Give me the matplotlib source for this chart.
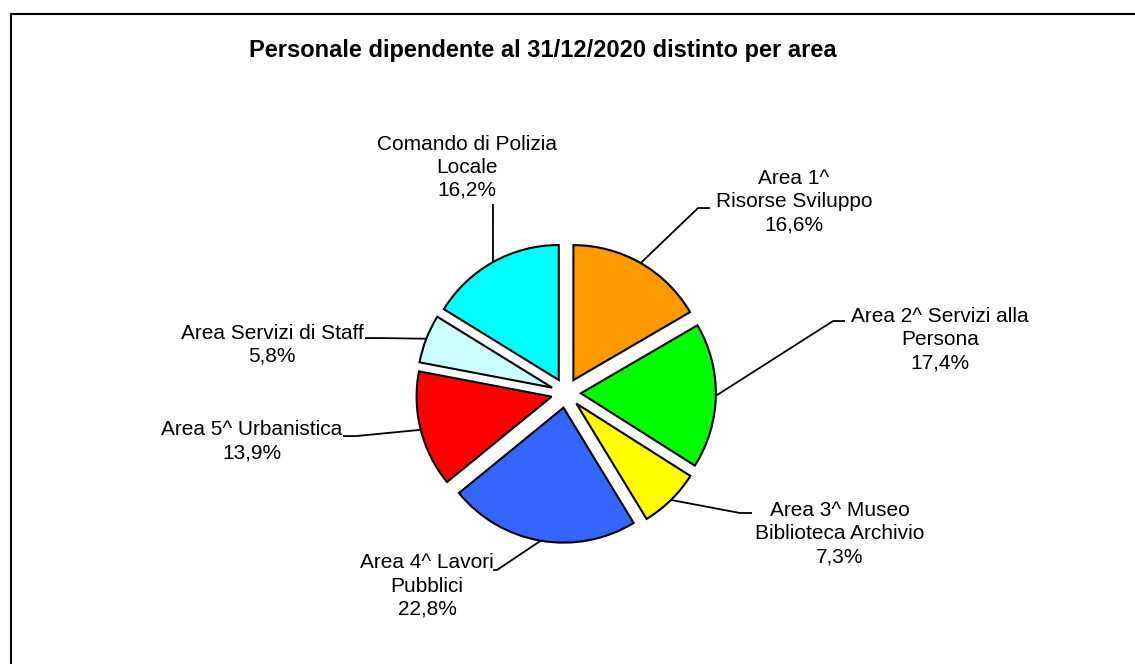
import matplotlib.pyplot as plt
import numpy as np
from matplotlib.lines import Line2D

plt.rcParams['font.family'] = ['Liberation Sans', 'DejaVu Sans']

# Staff per area at 31/12/2020 (percent of total), clockwise from 12 o'clock
areas = ["Area 1^\nRisorse Sviluppo",
         "Area 2^ Servizi alla\nPersona",
         "Area 3^ Museo\nBiblioteca Archivio",
         "Area 4^ Lavori\nPubblici",
         "Area 5^ Urbanistica",
         "Area Servizi di Staff",
         "Comando di Polizia\nLocale"]
shares = [16.6, 17.4, 7.3, 22.8, 13.9, 5.8, 16.2]
colors = ["#FF9900", "#00FF00", "#FFFF00", "#3366FF",
          "#FF0000", "#CCFFFF", "#00FFFF"]

title = "Personale dipendente al 31/12/2020 distinto per area"

EXPLODE = 0.11
W, H = 1135, 664
UNIT = 135.0           # pixels per pie radius
CX, CY = 566, 393      # pie centre, pixels from top-left

# label block centres and leader-line stubs (elbow, end), in pie-radius units
label_pos = [(1.689, 1.415), (2.770, 0.393), (2.030, -1.041), (-1.030, -1.430),
             (-2.326, -0.359), (-2.178, 0.359), (-0.733, 1.672)]
stubs = [((0.978, 1.370), (1.067, 1.370)),
         ((1.978, 0.533), (2.067, 0.533)),
         ((1.289, -0.889), (1.378, -0.889)),
         ((-0.511, -1.311), (-0.540, -1.311)),
         ((-1.556, -0.319), (-1.652, -0.319)),
         ((-1.378, 0.407), (-1.489, 0.407)),
         ((-0.541, 1.400), (-0.541, 1.400))]

fig = plt.figure(figsize=(W / 100, H / 100), dpi=100)
ax = fig.add_axes([0, 0, 1, 1])

ax.pie(shares, colors=colors, startangle=90, counterclock=False,
       explode=[EXPLODE] * len(shares), radius=1,
       wedgeprops=dict(edgecolor='black', linewidth=1.5))

ax.set_xlim(-CX / UNIT, (W - CX) / UNIT)
ax.set_ylim(-(H - CY) / UNIT, CY / UNIT)
ax.set_aspect('auto')
ax.axis('off')

# leader lines run from the middle of each wedge's arc to its label
total = sum(shares)
cum = np.cumsum([0] + shares[:-1])
for i, v in enumerate(shares):
    mid = np.radians(90 - 360 * (cum[i] + v / 2) / total)
    ax_pt = ((1 + EXPLODE) * np.cos(mid), (1 + EXPLODE) * np.sin(mid))
    (ex, ey), (tx, ty) = stubs[i]
    ax.plot([ax_pt[0], ex, tx], [ax_pt[1], ey, ty], color='black', lw=1.3,
            solid_capstyle='butt', zorder=1)
    pct = f"{v:.1f}%".replace('.', ',')
    lx, ly = label_pos[i]
    ax.text(lx, ly, f"{areas[i]}\n{pct}", ha='center', va='center',
            fontsize=15, linespacing=1.27, multialignment='center')

fig.text(543 / W, 1 - 51 / H, title, ha='center', va='center',
         fontsize=17, fontweight='bold')

# chart area border (top and left edges)
fig.add_artist(Line2D([10.5 / W, 10.5 / W], [0, 1 - 13.5 / H],
                      transform=fig.transFigure, color='black', lw=1.5))
fig.add_artist(Line2D([10.5 / W, 1], [1 - 13.5 / H, 1 - 13.5 / H],
                      transform=fig.transFigure, color='black', lw=1.5))

fig.savefig("out.png", dpi=100, facecolor='white')
